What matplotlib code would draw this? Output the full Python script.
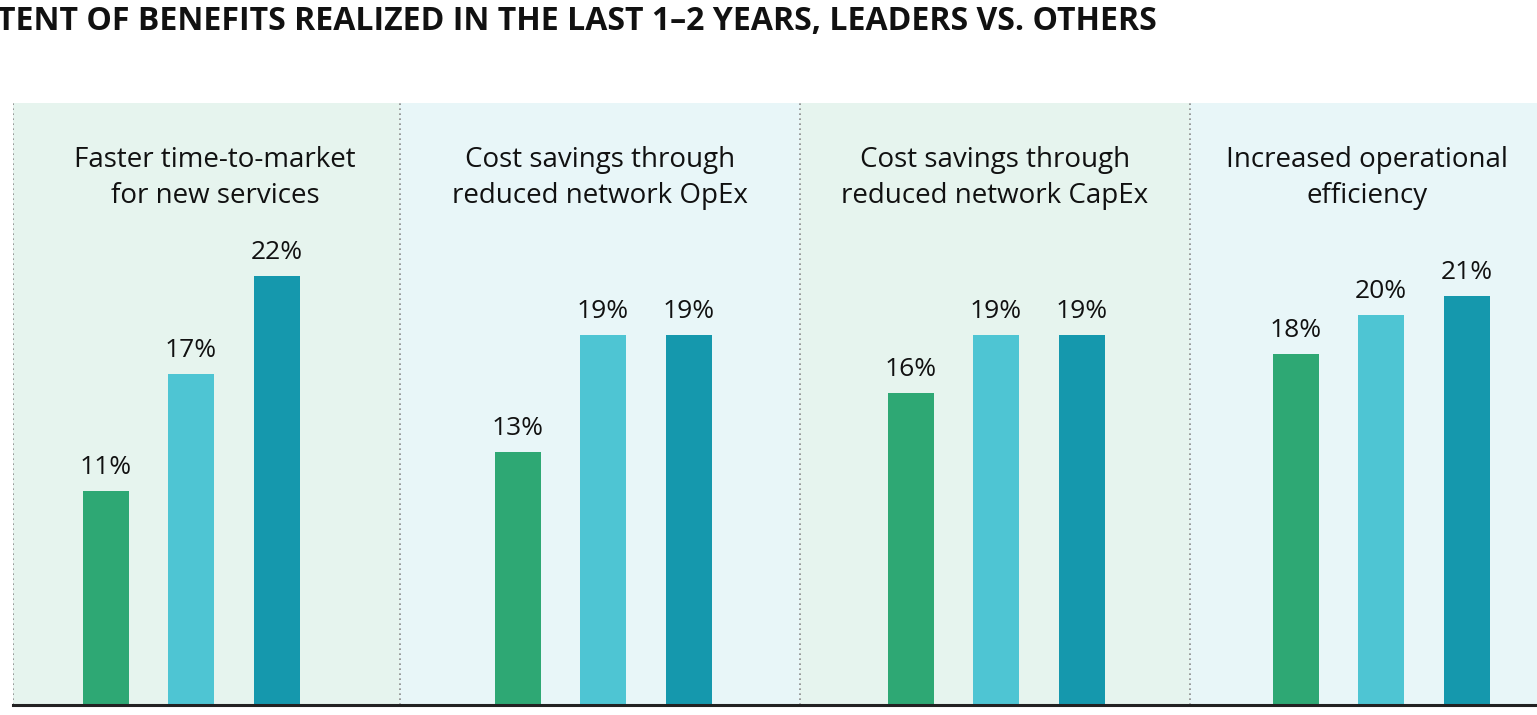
import matplotlib
matplotlib.use('agg')
import matplotlib.pyplot as plt
from matplotlib.patches import Rectangle

plt.rc('font', family=['Open Sans', 'DejaVu Sans'])

# data
title = 'TENT OF BENEFITS REALIZED IN THE LAST 1\u20132 YEARS, LEADERS VS. OTHERS'
categories = ['Faster time-to-market\nfor new services',
              'Cost savings through\nreduced network OpEx',
              'Cost savings through\nreduced network CapEx',
              'Increased operational\nefficiency']
series_a = [11, 13, 16, 18]   # green
series_b = [17, 19, 19, 20]   # light cyan
series_c = [22, 19, 19, 21]   # teal

# layout (pixel-like x units)
panel_edges = [13, 400, 800, 1190, 1580]
title_x = [215, 600, 995, 1367]
group_centers = [191, 603, 996, 1381]
bar_step = 85.5
bar_w = 46
colors = ['#2EA874', '#4EC5D3', '#1598AD']
panel_bg = ['#E6F4EE', '#E8F6F8']

W, H = 1537, 715
fig = plt.figure(figsize=(W / 100, H / 100), dpi=100)
ax = fig.add_axes([13 / W, 10 / H, 1 - 13 / W, 602 / H])
ax.set_xlim(13, W)
ymax = 602 / 19.5
ax.set_ylim(0, ymax)
ax.axis('off')

for i in range(4):
    ax.add_patch(Rectangle((panel_edges[i], 0), panel_edges[i + 1] - panel_edges[i], ymax,
                           color=panel_bg[i % 2], zorder=0, lw=0))
    ax.plot([panel_edges[i]] * 2, [0, ymax], ls=(0, (1, 2)), color='#8a8a8a', lw=1.2, zorder=1)
    ax.text(title_x[i], (705 - 178) / 19.5, categories[i], ha='center', va='center',
            fontsize=20, linespacing=1.36, color='#111111')

for k, vals in enumerate([series_a, series_b, series_c]):
    xs = [c + (k - 1) * bar_step for c in group_centers]
    ax.bar(xs, vals, width=bar_w, color=colors[k], zorder=2)
    for x, v in zip(xs, vals):
        ax.text(x, v + 0.55, f'{v}%', ha='center', va='bottom', fontsize=19, color='#111111')

ax.plot([13, W], [0, 0], color='#222222', lw=2.2, zorder=3, clip_on=False)

fig.text(-0.002, 1 - 22 / H, title, ha='left', va='center', fontsize=23, fontweight='bold',
         color='#111111')

plt.savefig('out.png', dpi=100)
